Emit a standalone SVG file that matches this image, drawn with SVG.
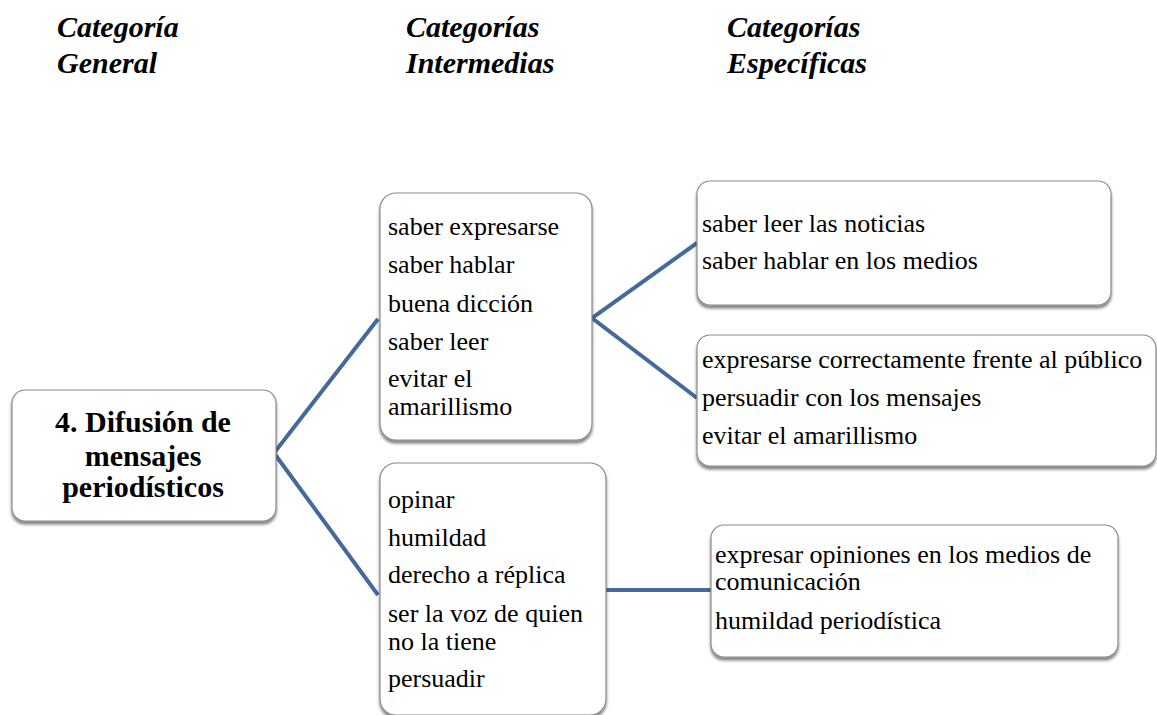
<svg xmlns="http://www.w3.org/2000/svg" width="1157" height="715" viewBox="0 0 1157 715" font-family="Times New Roman">
  <defs>
    <filter id="shadow" x="-10%" y="-10%" width="120%" height="130%">
      <feGaussianBlur in="SourceAlpha" stdDeviation="1.6"/>
      <feOffset dx="0" dy="3"/>
      <feComponentTransfer><feFuncA type="linear" slope="0.5"/></feComponentTransfer>
      <feMerge><feMergeNode/><feMergeNode in="SourceGraphic"/></feMerge>
    </filter>
  </defs>
  <style>
    .box { fill: #ffffff; stroke: #8a8a8a; stroke-width: 1.2; filter: url(#shadow); }
    .link { stroke: #45699c; stroke-width: 4; fill: none; }
  </style>
  <rect width="1157" height="715" fill="#ffffff"/>

  <!-- column headings -->
  <g id="headings" font-family="Times New Roman" font-size="30" font-weight="bold" font-style="italic" fill="#000000">
    <text x="57" y="37">Categoría</text>
    <text x="57" y="73">General</text>
    <text x="406" y="37">Categorías</text>
    <text x="406" y="73">Intermedias</text>
    <text x="727" y="37">Categorías</text>
    <text x="727" y="73">Específicas</text>
  </g>

  <!-- connectors -->
  <g id="connectors">
    <polyline class="link" points="378,319 274,453 378,595"/>
    <polyline class="link" points="697,243 592,318 697,398"/>
    <line class="link" x1="606" y1="590" x2="711" y2="590"/>
  </g>

  <!-- general category -->
  <g id="node-general">
    <rect class="box" x="12" y="390" width="264" height="131" rx="13"/>
    <g font-family="Times New Roman" font-size="30" font-weight="bold" text-anchor="middle">
      <text x="143" y="432">4. Difusión de</text>
      <text x="143" y="466">mensajes</text>
      <text x="143" y="497">periodísticos</text>
    </g>
  </g>

  <!-- intermediate categories -->
  <g id="node-intermedia-1">
    <rect class="box" x="380" y="193" width="212" height="247" rx="16"/>
    <g font-family="Times New Roman" font-size="26">
      <text x="388" y="235">saber expresarse</text>
      <text x="388" y="273">saber hablar</text>
      <text x="388" y="312">buena dicción</text>
      <text x="388" y="350">saber leer</text>
      <text x="388" y="387">evitar el</text>
      <text x="388" y="415">amarillismo</text>
    </g>
  </g>
  <g id="node-intermedia-2">
    <rect class="box" x="380" y="463" width="226" height="252" rx="16"/>
    <g font-family="Times New Roman" font-size="26">
      <text x="388" y="508">opinar</text>
      <text x="388" y="546">humildad</text>
      <text x="388" y="583">derecho a réplica</text>
      <text x="388" y="622">ser la voz de quien</text>
      <text x="388" y="650">no la tiene</text>
      <text x="388" y="687">persuadir</text>
    </g>
  </g>

  <!-- specific categories -->
  <g id="node-especifica-1">
    <rect class="box" x="697" y="181" width="414" height="124" rx="13"/>
    <g font-family="Times New Roman" font-size="26">
      <text x="702" y="232">saber leer las noticias</text>
      <text x="702" y="269">saber hablar en los medios</text>
    </g>
  </g>
  <g id="node-especifica-2">
    <rect class="box" x="697" y="335" width="459" height="131" rx="13"/>
    <g font-family="Times New Roman" font-size="26">
      <text x="702" y="368">expresarse correctamente frente al público</text>
      <text x="702" y="406">persuadir con los mensajes</text>
      <text x="702" y="444">evitar el amarillismo</text>
    </g>
  </g>
  <g id="node-especifica-3">
    <rect class="box" x="711" y="525" width="407" height="132" rx="13"/>
    <g font-family="Times New Roman" font-size="26">
      <text x="715" y="563">expresar opiniones en los medios de</text>
      <text x="715" y="590">comunicación</text>
      <text x="715" y="629">humildad periodística</text>
    </g>
  </g>
</svg>
